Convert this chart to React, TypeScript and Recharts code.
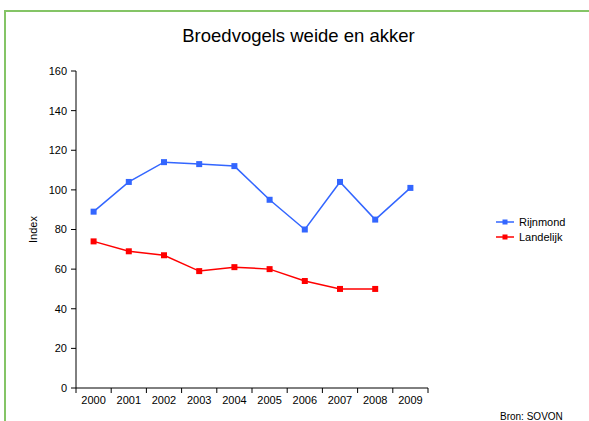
import { Legend, Line, LineChart, XAxis, YAxis } from 'recharts';

const years = ['2000', '2001', '2002', '2003', '2004', '2005', '2006', '2007', '2008', '2009'];
const rijnmond = [89, 104, 114, 113, 112, 95, 80, 104, 85, 101];
const landelijk = [74, 69, 67, 59, 61, 60, 54, 50, 50];
const yTicks = [0, 20, 40, 60, 80, 100, 120, 140, 160];

const BLUE = '#3366ff';
const RED = '#ff0000';
const FONT = '"Liberation Sans", Arial, sans-serif';

// x positions are band centres (i + 0.5) so ticks can sit on the band edges like Excel
const data = years.map((year, i) => ({
  pos: i + 0.5,
  year,
  rijnmond: rijnmond[i] ?? null,
  landelijk: landelijk[i] ?? null,
}));

const xTicks = years.flatMap((_, i) => [i, i + 0.5]).concat(years.length);

function XTick({ x, y, payload }: any) {
  const v = payload.value as number;
  if (Number.isInteger(v)) {
    return <line x1={x} x2={x} y1={y} y2={y + 5} stroke="#000" strokeWidth={1} />;
  }
  return (
    <text x={x} y={y + 16} textAnchor="middle" fontSize={11} fill="#000" fontFamily={FONT}>
      {years[Math.floor(v)]}
    </text>
  );
}

const squareDot = (color: string) => (props: any) => {
  const { cx, cy, key } = props;
  if (cx == null || cy == null) return <g key={key} />;
  return <rect key={key} x={cx - 3} y={cy - 3} width={6} height={6} fill={color} />;
};

function LegendIcon({ color }: { color: string }) {
  return (
    <svg width={18} height={8} style={{ marginRight: 5 }}>
      <line x1={0} x2={18} y1={4} y2={4} stroke={color} strokeWidth={1.5} />
      <rect x={6.5} y={1.5} width={5} height={5} fill={color} />
    </svg>
  );
}

function LegendBox() {
  const items = [
    { name: 'Rijnmond', color: BLUE },
    { name: 'Landelijk', color: RED },
  ];
  return (
    <div style={{ fontFamily: FONT, fontSize: 11 }}>
      {items.map((it) => (
        <div key={it.name} style={{ display: 'flex', alignItems: 'center', height: 15 }}>
          <LegendIcon color={it.color} />
          <span>{it.name}</span>
        </div>
      ))}
    </div>
  );
}

export default function App() {
  return (
    <div
      style={{
        position: 'absolute',
        left: 0,
        top: 0,
        width: 589,
        height: 421,
        overflow: 'hidden',
        background: '#fff',
        fontFamily: FONT,
      }}
    >
      <div
        style={{
          position: 'absolute',
          left: 4,
          top: 10,
          width: 620,
          height: 500,
          border: '2px solid #84c466',
        }}
      />
      <div
        style={{
          position: 'absolute',
          left: 4,
          width: 589,
          top: 25,
          textAlign: 'center',
          fontSize: 18.5,
          color: '#000',
        }}
      >
        Broedvogels weide en akker
      </div>
      <div style={{ position: 'absolute', left: 500, top: 411, fontSize: 10, color: '#000' }}>
        Bron: SOVON
      </div>
      <div style={{ position: 'absolute', left: 0, top: 0 }}>
        <LineChart width={589} height={421} data={data} margin={{ top: 71, right: 71, bottom: 0, left: 0 }}>
          <XAxis
            dataKey="pos"
            type="number"
            domain={[0, years.length]}
            ticks={xTicks}
            interval={0}
            tickLine={false}
            tickSize={0}
            tickMargin={0}
            tick={<XTick />}
            height={33}
            stroke="#000"
          />
          <YAxis
            domain={[0, 160]}
            ticks={yTicks}
            interval={0}
            width={76}
            tickSize={5}
            tickMargin={4}
            stroke="#000"
            tick={{ fontSize: 11, fill: '#000', fontFamily: FONT }}
            label={{
              value: 'Index',
              angle: -90,
              position: 'insideLeft',
              offset: 33,
              style: { textAnchor: 'middle', fontSize: 11, fill: '#000', fontFamily: FONT },
            }}
          />
          <Legend
            layout="vertical"
            align="right"
            verticalAlign="middle"
            content={<LegendBox />}
            wrapperStyle={{ left: 496, top: 214, width: 90 }}
          />
          <Line
            dataKey="rijnmond"
            stroke={BLUE}
            strokeWidth={1.5}
            dot={squareDot(BLUE)}
            activeDot={false}
            isAnimationActive={false}
          />
          <Line
            dataKey="landelijk"
            stroke={RED}
            strokeWidth={1.5}
            dot={squareDot(RED)}
            activeDot={false}
            isAnimationActive={false}
          />
        </LineChart>
      </div>
    </div>
  );
}
